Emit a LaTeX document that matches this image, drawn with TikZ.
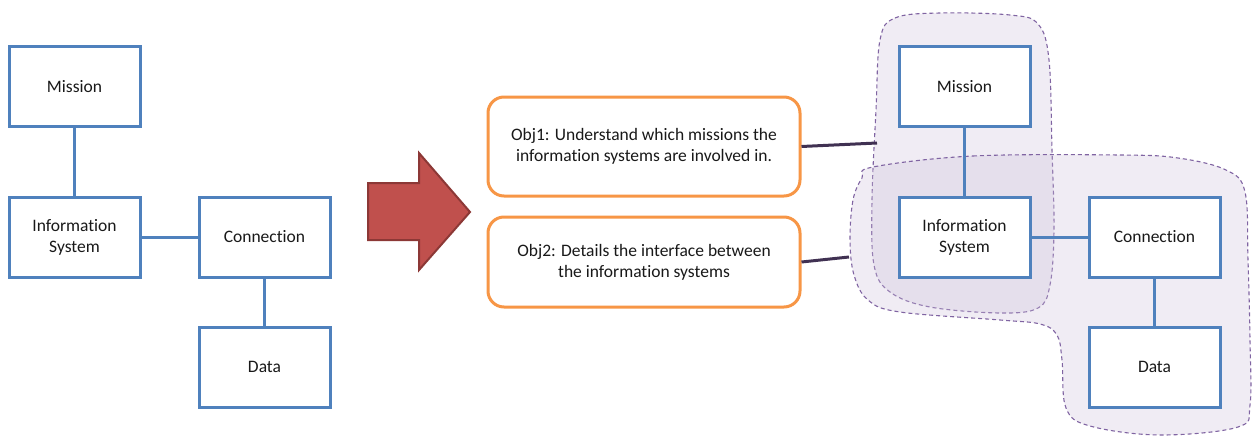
\documentclass[tikz,border=0pt]{standalone}
\usepackage{fontspec}
\setmainfont{Carlito}[Ligatures=NoCommon]
\definecolor{boxblue}{HTML}{4F81BD}
\definecolor{objorange}{HTML}{F79646}
\definecolor{arrowred}{HTML}{C0504D}
\definecolor{arrowedge}{HTML}{8C3836}
\definecolor{linkpurple}{HTML}{403152}
\definecolor{groupfill}{HTML}{CCC0DA}
\definecolor{groupedge}{HTML}{8064A2}
\tikzset{
  entity/.style={draw=boxblue, line width=3pt, fill=white, minimum width=131pt,
    minimum height=80pt, inner sep=0pt, align=center, text=black!90,
    font=\fontsize{17.5}{21}\selectfont},
  objective/.style={draw=objorange, line width=3pt, fill=white, rounded corners=16pt,
    minimum width=312pt, align=center, inner sep=0pt, text=black!90,
    font=\fontsize{17.5}{21}\selectfont},
  relation/.style={draw=boxblue, line width=3pt},
  objlink/.style={draw=linkpurple, line width=3pt},
  group/.style={draw=groupedge, line width=1.1pt, dash pattern=on 4pt off 3pt,
    fill=groupfill, fill opacity=0.3},
}
\begin{document}
\begin{tikzpicture}[x=1pt,y=-1pt]
\useasboundingbox (0,0) rectangle (1254,439);

% ---- plain model on the left ----
\node[entity] (m1) at (74.5,86.5) {Mission};
\node[entity] (i1) at (74.5,237) {Information\\System};
\node[entity] (c1) at (264.5,237) {Connection};
\node[entity] (d1) at (264.5,367) {Data};
\draw[relation] (m1) -- (i1);
\draw[relation] (i1) -- (c1);
\draw[relation] (c1) -- (d1);

% ---- block arrow ----
\draw[fill=arrowred, draw=arrowedge, line width=2pt, line join=miter]
  (368,183) -- (419,183) -- (419,153) -- (470,212) -- (419,270) -- (419,240)
  -- (368,240) -- cycle;

% ---- grouping regions ----
\path[group] plot[smooth cycle, tension=0.6] coordinates {
  (880,40) (895,18) (940,13) (1010,15) (1038,24) (1049,60) (1052,150)
  (1054,230) (1050,285) (1038,308) (1000,313) (930,307) (890,292)
  (874,265) (872,200) (876,110)};
\path[group] plot[smooth cycle, tension=0.6] coordinates {
  (873,167) (973,156) (1120,155) (1178,158) (1226,170) (1245,192)
  (1248,260) (1250,340) (1250,405) (1238,427) (1160,435) (1090,426)
  (1066,408) (1062,360) (1057,335) (1040,324) (1000,320) (900,312)
  (868,300) (854,275) (850,240) (853,200) (862,178)};
\coordinate (g1) at (877,143);
\coordinate (g2) at (849,257);

% ---- objectives ----
\node[objective, minimum height=99pt] (o1) at (644,146.5)
  {Obj1: Understand which missions the\\information systems are involved in.};
\node[objective, minimum height=90pt] (o2) at (644,262)
  {Obj2: Details the interface between\\the information systems};
\draw[objlink] (o1.east) -- (g1);
\draw[objlink] (o2.east) -- (g2);

% ---- grouped model on the right ----
\node[entity] (m2) at (964.5,86.5) {Mission};
\node[entity] (i2) at (964.5,237) {Information\\System};
\node[entity] (c2) at (1154.5,237) {Connection};
\node[entity] (d2) at (1154.5,367) {Data};
\draw[relation] (m2) -- (i2);
\draw[relation] (i2) -- (c2);
\draw[relation] (c2) -- (d2);
\end{tikzpicture}
\end{document}
